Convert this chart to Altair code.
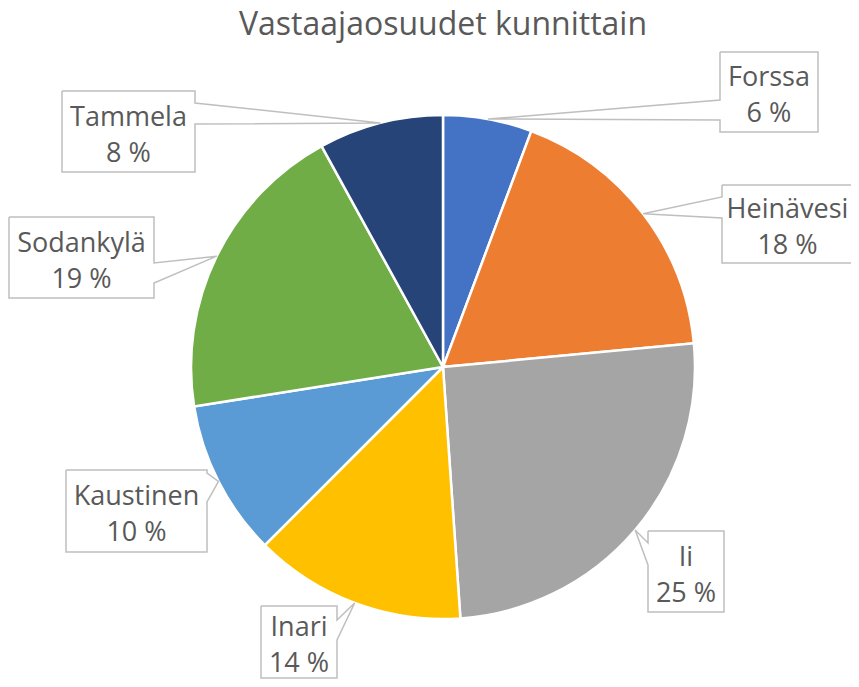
import math
import altair as alt
import pandas as pd

# ---------------- data ----------------
NAMES = ["Forssa", "Heinävesi", "Ii", "Inari", "Kaustinen", "Sodankylä", "Tammela"]
VALUES = [5.7, 17.8, 25.4, 13.6, 10.0, 19.5, 8.0]
PCT_LABELS = ["6 %", "18 %", "25 %", "14 %", "10 %", "19 %", "8 %"]
COLORS = ["#4472C4", "#ED7D31", "#A5A5A5", "#FFC000", "#5B9BD5", "#70AD47", "#264478"]
TITLE = "Vastaajaosuudet kunnittain"

# ---------------- layout (image pixel frame) ----------------
CX, CY, R = 443, 367, 252
TITLE_X, TITLE_Y = 443, 35
# box: x0, x1, y0, y1, pointer side, pointer base b1, b2
BOXES = {
    "Forssa": (720, 818, 52, 132, "left", 100, 120),
    "Heinävesi": (722, 853, 185, 263, "left", 197, 218),
    "Ii": (648, 724, 531, 612, "left", 543, 565),
    "Inari": (261, 337, 606, 678, "right", 620, 640),
    "Kaustinen": (66, 207, 470, 552, "right", 473, 502),
    "Sodankylä": (9, 154, 217, 298, "right", 263, 283),
    "Tammela": (62, 195, 91, 172, "right", 103, 124),
}
TEXT_COLOR = "#595959"
FONT = "Open Sans"

W, H = 843, 671
X_DOM = [8, 8 + W]
Y_DOM = [8, 8 + H]

pie = pd.DataFrame({"name": NAMES, "value": VALUES, "idx": list(range(len(NAMES)))})

# pointer tips: mid-angle of each slice on the pie edge
total = sum(VALUES)
tips = {}
cum = 0.0
for n, v in zip(NAMES, VALUES):
    mid = (cum + v / 2) / total * 2 * math.pi
    tips[n] = (CX + R * math.sin(mid), CY - R * math.cos(mid))
    cum += v

poly_rows = []
text_rows = []
for n, pct in zip(NAMES, PCT_LABELS):
    x0, x1, y0, y1, side, b1, b2 = BOXES[n]
    tx, ty = tips[n]
    if side == "left":
        pts = [(x0, y0), (x1, y0), (x1, y1), (x0, y1), (x0, b2), (tx, ty), (x0, b1), (x0, y0)]
    else:
        pts = [(x0, y0), (x1, y0), (x1, b1), (tx, ty), (x1, b2), (x1, y1), (x0, y1), (x0, y0)]
    for i, (px, py) in enumerate(pts):
        poly_rows.append({"name": n, "o": i, "px": px, "py": py})
    cx, cy = (x0 + x1) / 2, (y0 + y1) / 2
    text_rows.append({"name": n, "t": n, "tx": cx, "ty": cy - 14})
    text_rows.append({"name": n, "t": pct, "tx": cx, "ty": cy + 22})

poly = pd.DataFrame(poly_rows)
texts = pd.DataFrame(text_rows)
title_df = pd.DataFrame({"t": [TITLE], "tx": [TITLE_X], "ty": [TITLE_Y]})

xs = alt.Scale(domain=X_DOM, nice=False, zero=False)
ys = alt.Scale(domain=Y_DOM, nice=False, zero=False, reverse=True)

arcs = alt.Chart(pie).mark_arc(outerRadius=R, stroke="white", strokeWidth=2.5).encode(
    theta=alt.Theta("value:Q", stack=True),
    order=alt.Order("idx:Q"),
    color=alt.Color("name:N", scale=alt.Scale(domain=NAMES, range=COLORS), legend=None),
    x=alt.datum(CX, scale=xs, axis=None),
    y=alt.datum(CY, scale=ys, axis=None),
)

callouts = alt.Chart(poly).mark_line(
    fill="white", stroke="#BFBFBF", strokeWidth=1.5, interpolate="linear"
).encode(
    x=alt.X("px:Q", scale=xs, axis=None),
    y=alt.Y("py:Q", scale=ys, axis=None),
    order=alt.Order("o:Q"),
    detail="name:N",
)

labels = alt.Chart(texts).mark_text(
    font=FONT, fontSize=27, color=TEXT_COLOR, align="center", baseline="middle"
).encode(
    x=alt.X("tx:Q", scale=xs, axis=None),
    y=alt.Y("ty:Q", scale=ys, axis=None),
    text="t:N",
)

title = alt.Chart(title_df).mark_text(
    font=FONT, fontSize=32, color=TEXT_COLOR, align="center", baseline="alphabetic"
).encode(
    x=alt.X("tx:Q", scale=xs, axis=None),
    y=alt.Y("ty:Q", scale=ys, axis=None),
    text="t:N",
)

chart = alt.layer(arcs, callouts, labels, title).properties(
    width=W,
    height=H,
    autosize=alt.AutoSizeParams(type="none"),
    padding={"left": 0, "top": 0, "right": 0, "bottom": 0},
).configure_view(stroke=None)

chart.save("out.html", embed_options={"renderer": "svg", "actions": False})
